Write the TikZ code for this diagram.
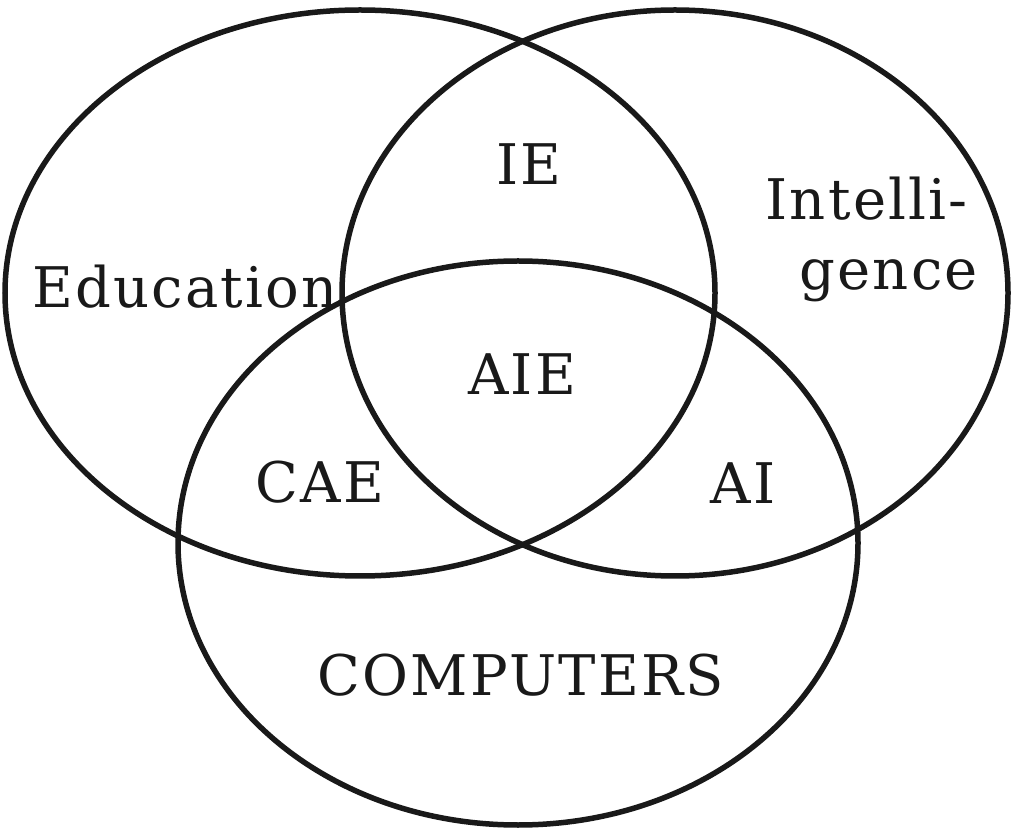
\documentclass[tikz,border=0pt]{standalone}
\usepackage{fontspec}
\usepackage{tikz}
\usetikzlibrary{positioning}

\newfontfamily\vennfont{DejaVu Serif}[LetterSpace=4]

\begin{document}
\begin{tikzpicture}[
  x=1pt, y=1pt,
  setline/.style={draw=black!90, line width=5.5pt},
  lab/.style={font=\vennfont\fontsize{56}{60}\selectfont, inner sep=0pt, text=black!90}
]
  \useasboundingbox (0,0) rectangle (1012,828);

  % set centres
  \coordinate (E) at (360,535);
  \coordinate (I) at (675,535);
  \coordinate (C) at (518,285);

  % the three sets
  \draw[setline] (E) ellipse[x radius=355, y radius=283];
  \draw[setline] (I) ellipse[x radius=333, y radius=283];
  \draw[setline] (C) ellipse[x radius=340, y radius=282];

  % set names
  \node[lab, anchor=base west] (edu) at (32,520) {Education};
  \node[lab, anchor=base east] (intl) at (968,608) {Intelli-};
  \node[lab, anchor=base east] (intg) at (978,538) {gence};
  \node[lab, anchor=base] (comp) at (521,133) {COMPUTERS};

  % overlaps
  \node[lab, anchor=base] (ie) at (529,643) {IE};
  \node[lab, anchor=base] (aie) at (522,433) {AIE};
  \node[lab, anchor=base] (cae) at (320,325) {CAE};
  \node[lab, anchor=base] (ai) at (743,324) {AI};
\end{tikzpicture}
\end{document}
